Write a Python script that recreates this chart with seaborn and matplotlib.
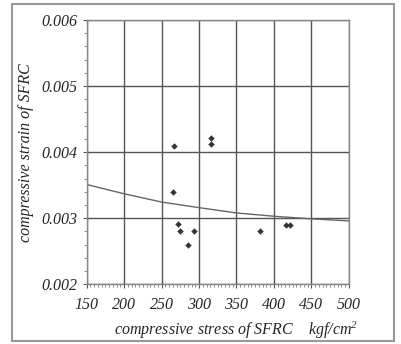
import matplotlib
matplotlib.use("Agg")
import matplotlib.pyplot as plt
import seaborn as sns
import pandas as pd
from matplotlib.ticker import MultipleLocator
from matplotlib.patches import Rectangle

# 측정값 (stress, strain)
stress = [266, 265, 272, 274, 285, 293, 316, 316, 382, 416, 422]
strain = [0.00410, 0.00339, 0.00291, 0.00280, 0.00259, 0.00280, 0.00421, 0.00412, 0.00280, 0.00290, 0.00290]

# 회귀 곡선
curve_x = [150, 200, 250, 300, 350, 400, 450, 500]
curve_y = [0.00351, 0.00337, 0.003245, 0.00316, 0.00308, 0.00303, 0.00299, 0.00296]

xticks = [150, 200, 250, 300, 350, 400, 450, 500]
yticks = [0.002, 0.003, 0.004, 0.005, 0.006]

sns.set_style("white")
plt.rcParams['font.family'] = ['Liberation Serif', 'DejaVu Serif']
plt.rcParams['mathtext.fontset'] = 'custom'
plt.rcParams['mathtext.rm'] = 'Liberation Serif:italic'
plt.rcParams['mathtext.it'] = 'Liberation Serif:italic'

pts = pd.DataFrame({"stress": stress, "strain": strain})
crv = pd.DataFrame({"stress": curve_x, "strain": curve_y})

fig = plt.figure(figsize=(4.01, 3.44), dpi=100)
ax = fig.add_axes([0.216, 0.1735, 0.654, 0.7685])

sns.lineplot(data=crv, x="stress", y="strain", ax=ax, color="#666666", lw=1.0)
sns.scatterplot(data=pts, x="stress", y="strain", ax=ax, marker="D", s=9,
                color="#333333", edgecolor="#333333", zorder=3)

ax.set_xlim(150, 500)
ax.set_ylim(0.002, 0.006)
ax.set_xticks(xticks)
ax.set_yticks(yticks)
ax.set_xticklabels([str(v) for v in xticks])
ax.set_yticklabels([f"{v:.3f}" for v in yticks])
ax.xaxis.set_minor_locator(MultipleLocator(5))
ax.yaxis.set_minor_locator(MultipleLocator(0.0002))
ax.tick_params(which="major", direction="inout", length=6, width=0.8, color="#555555",
               labelsize=11.5, pad=4)
ax.tick_params(axis="x", which="major", pad=6)
ax.tick_params(which="minor", direction="out", length=2.5, width=0.6, color="#777777")
ax.tick_params(axis="y", which="minor", left=True)
ax.tick_params(axis="x", which="minor", bottom=True)
ax.tick_params(axis="both", which="major", bottom=True, left=True)
for lab in ax.get_xticklabels() + ax.get_yticklabels():
    lab.set_fontstyle("italic")

ax.grid(True, which="major", color="#555555", lw=1.0)
for sp in ax.spines.values():
    sp.set_color("#888888")
    sp.set_linewidth(1.0)

ax.set_xlabel(r"compressive stress of SFRC    kgf/cm$^2$", fontsize=11.5, style="italic", labelpad=3)
ax.xaxis.set_label_coords(0.57, -0.135)
ax.set_ylabel("compressive strain of SFRC", fontsize=11.5, style="italic", labelpad=5)

# 바깥 테두리
fig.patches.append(Rectangle((12 / 401, 3 / 344), 382 / 401, 337 / 344,
                             transform=fig.transFigure, fill=False,
                             edgecolor="#999999", lw=1.5))

fig.savefig("out.png", dpi=100)
